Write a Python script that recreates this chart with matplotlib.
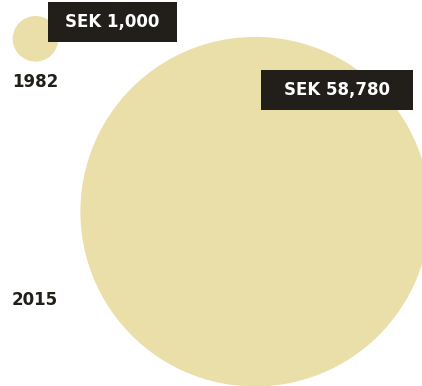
import matplotlib.pyplot as plt
from matplotlib.patches import Circle, Rectangle

# Values shown as area-proportional circles
years = ["1982", "2015"]
values = [1000, 58780]
labels = ["SEK 1,000", "SEK 58,780"]

W, H = 422, 386
fig = plt.figure(figsize=(W / 100, H / 100), dpi=100)
ax = fig.add_axes([0, 0, 1, 1])
ax.set_xlim(0, W)
ax.set_ylim(H, 0)
ax.set_aspect("equal")
ax.axis("off")

circle_col = "#eadfa9"
dark = "#221f1b"
font = "DejaVu Sans"

# radius of the base circle in pixels, others scale by sqrt(value)
r0 = 22.8
centers = [(35.5, 38.8), (255.2, 211.7)]
year_pos = [(12, 82), (12, 300)]
boxes = [(48, 2, 129, 40), (261, 70, 152, 40)]

for v, (cx, cy) in zip(values, centers):
    r = r0 * (v / values[0]) ** 0.5
    ax.add_patch(Circle((cx, cy), r, facecolor=circle_col, edgecolor="none"))

for yr, (x, y) in zip(years, year_pos):
    ax.text(x, y, yr, ha="left", va="center", fontsize=12,
            fontweight="bold", color=dark, family=font)

for lab, (x, y, w, h) in zip(labels, boxes):
    ax.add_patch(Rectangle((x, y), w, h, facecolor=dark, edgecolor="none", zorder=3))
    ax.text(x + w / 2, y + h / 2 + 0.5, lab, ha="center", va="center",
            fontsize=12, fontweight="bold", color="white", family=font, zorder=4)

fig.savefig("out.png", dpi=100)
